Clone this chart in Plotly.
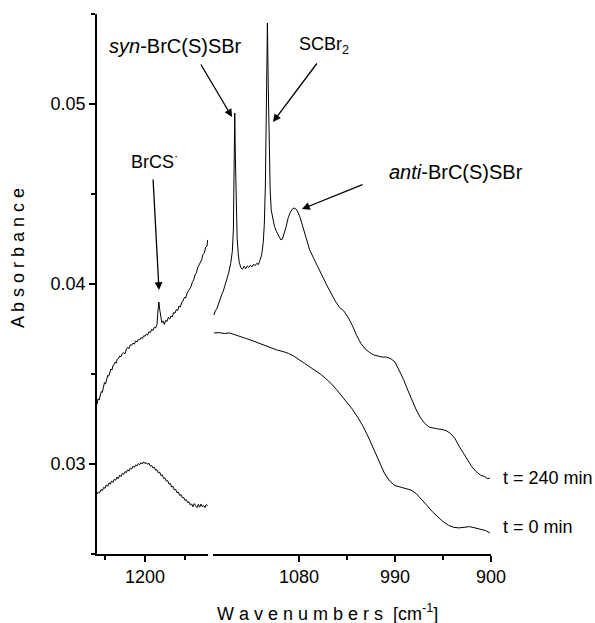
import plotly.graph_objects as go

# ---------------- data ----------------
# left segment (1236-1153 cm-1), t = 240 min
left_top_wn = [1236, 1235.2, 1234.4, 1233.6, 1232.8, 1232, 1231.2, 1230.4, 1229.6, 1228.8, 1228, 1227.2,
               1226.4, 1225.6, 1224.8, 1224, 1223.2, 1222.4, 1221.6, 1220.8, 1220, 1219, 1218, 1217, 1216,
               1215, 1214, 1213, 1212, 1211, 1210, 1209, 1208, 1207, 1206, 1205, 1204, 1203, 1202, 1201,
               1200, 1199, 1198, 1197, 1196, 1195, 1194, 1193, 1192, 1191, 1190.3, 1189.6, 1189, 1188.2,
               1187.4, 1186.5, 1185.5, 1184.5, 1183.5, 1182.5, 1181.5, 1180.5, 1179.5, 1178.5, 1177.5,
               1176.5, 1175.5, 1174.5, 1173.5, 1172.5, 1171.5, 1170.5, 1169.5, 1168.5, 1167.5, 1166.5,
               1165.5, 1164.5, 1163.5, 1162.5, 1161.5, 1160.5, 1159.5, 1158.5, 1157.5, 1156.5, 1155.5,
               1154.5, 1153.5, 1153]
left_top_abs = [0.03330, 0.03362, 0.03355, 0.03388, 0.03402, 0.03398, 0.03430, 0.03452, 0.03445, 0.03478,
                0.03492, 0.03488, 0.03515, 0.03528, 0.03522, 0.03548, 0.03552, 0.03566, 0.03560, 0.03582,
                0.03585, 0.03600, 0.03596, 0.03615, 0.03618, 0.03612, 0.03637, 0.03648, 0.03641, 0.03662,
                0.03660, 0.03672, 0.03666, 0.03684, 0.03678, 0.03692, 0.03690, 0.03702, 0.03697, 0.03712,
                0.03710, 0.03722, 0.03716, 0.03735, 0.03730, 0.03748, 0.03742, 0.03760, 0.03756, 0.03775,
                0.03850, 0.03900, 0.03860, 0.03810, 0.03785, 0.03795, 0.03775, 0.03798, 0.03792, 0.03815,
                0.03805, 0.03822, 0.03818, 0.03842, 0.03838, 0.03858, 0.03852, 0.03878, 0.03872, 0.03898,
                0.03905, 0.03925, 0.03922, 0.03948, 0.03962, 0.03975, 0.03985, 0.04010, 0.04022, 0.04050,
                0.04062, 0.04090, 0.04105, 0.04128, 0.04135, 0.04165, 0.04172, 0.04205, 0.04210, 0.04245]

# left segment, t = 0 min
left_bot_wn = [1236, 1235, 1234, 1233, 1232, 1231, 1230, 1229, 1228, 1227, 1226, 1225, 1224, 1223, 1222,
               1221, 1220, 1219, 1218, 1217, 1216, 1215, 1214, 1213, 1212, 1211, 1210, 1209, 1208, 1207,
               1206, 1205, 1204, 1203, 1202, 1201, 1200, 1199, 1198, 1197, 1196, 1195, 1194, 1193, 1192,
               1191, 1190, 1189, 1188, 1187, 1186, 1185, 1184, 1183, 1182, 1181, 1180, 1179, 1178, 1177,
               1176, 1175, 1174, 1173, 1172, 1171, 1170, 1169, 1168, 1167, 1166, 1165, 1164, 1163, 1162,
               1161, 1160, 1159, 1158, 1157, 1156, 1155, 1154, 1153]
left_bot_abs = [0.02832, 0.02845, 0.02840, 0.02858, 0.02852, 0.02870, 0.02865, 0.02884, 0.02876, 0.02895,
                0.02888, 0.02906, 0.02898, 0.02915, 0.02910, 0.02928, 0.02918, 0.02938, 0.02930, 0.02948,
                0.02942, 0.02958, 0.02952, 0.02968, 0.02960, 0.02978, 0.02972, 0.02988, 0.02980, 0.02995,
                0.02990, 0.03002, 0.02996, 0.03008, 0.03000, 0.03012, 0.03002, 0.03008, 0.02998, 0.03004,
                0.02988, 0.02992, 0.02978, 0.02982, 0.02965, 0.02968, 0.02950, 0.02955, 0.02935, 0.02940,
                0.02920, 0.02922, 0.02905, 0.02908, 0.02888, 0.02892, 0.02872, 0.02876, 0.02855, 0.02860,
                0.02840, 0.02845, 0.02825, 0.02830, 0.02812, 0.02815, 0.02798, 0.02802, 0.02785, 0.02790,
                0.02772, 0.02778, 0.02762, 0.02780, 0.02768, 0.02758, 0.02776, 0.02760, 0.02778, 0.02762,
                0.02770, 0.02758, 0.02775, 0.02768]

# right segment (1160-900 cm-1), t = 240 min
right_top_wn = [1159.7, 1158.5, 1157, 1155.5, 1154, 1152.5, 1151, 1149.5, 1148, 1146, 1144, 1142.5, 1141.5,
                1140.8, 1140.2, 1139.6, 1139, 1138, 1137, 1136, 1134.5, 1133, 1131.5, 1130, 1128.5, 1127,
                1125.5, 1124, 1122.5, 1121, 1119.5, 1118, 1117, 1115, 1113.5, 1112.5, 1111.5, 1110.5,
                1109.6, 1108.8, 1108, 1107, 1106, 1104.5, 1103, 1101, 1099, 1097, 1095.5, 1094, 1092, 1090,
                1088, 1086, 1084.5, 1083, 1081, 1079, 1076, 1073, 1070, 1066, 1062, 1058, 1054, 1050, 1046,
                1042, 1038, 1034, 1030, 1026, 1022, 1018, 1014, 1010, 1006, 1002, 998, 994, 990, 986, 982,
                978, 974, 970, 966, 962, 958, 954, 950, 946, 942, 938, 934, 930, 926, 922, 918, 914, 910,
                906, 903, 901]
right_top_abs = [0.03828, 0.03850, 0.03862, 0.03890, 0.03911, 0.03940, 0.03960, 0.03990, 0.04010, 0.04060,
                 0.04115, 0.04180, 0.04300, 0.04550, 0.04950, 0.04700, 0.04450, 0.04260, 0.04170, 0.04120,
                 0.04090, 0.04082, 0.04098, 0.04085, 0.04100, 0.04092, 0.04105, 0.04095, 0.04110, 0.04102,
                 0.04115, 0.04108, 0.04125, 0.04160, 0.04230, 0.04330, 0.04550, 0.04950, 0.05450, 0.05100,
                 0.04750, 0.04520, 0.04410, 0.04360, 0.04320, 0.04290, 0.04265, 0.04245, 0.04250, 0.04275,
                 0.04320, 0.04370, 0.04400, 0.04418, 0.04422, 0.04418, 0.04400, 0.04370, 0.04310, 0.04250,
                 0.04190, 0.04140, 0.04089, 0.04040, 0.03994, 0.03950, 0.03905, 0.03870, 0.03850, 0.03815,
                 0.03770, 0.03715, 0.03670, 0.03640, 0.03620, 0.03606, 0.03598, 0.03594, 0.03594, 0.03585,
                 0.03567, 0.03520, 0.03470, 0.03410, 0.03350, 0.03300, 0.03256, 0.03225, 0.03205, 0.03198,
                 0.03195, 0.03192, 0.03185, 0.03170, 0.03144, 0.03100, 0.03060, 0.03020, 0.02985, 0.02958,
                 0.02939, 0.02930, 0.02918, 0.02922]

# right segment, t = 0 min
right_bot_wn = [1159.7, 1155, 1150, 1145, 1140, 1135, 1130, 1125, 1120, 1115, 1110, 1105, 1100, 1095, 1090,
                1085, 1080, 1075, 1070, 1065, 1060, 1055, 1050, 1045, 1040, 1035, 1030, 1025, 1020, 1015,
                1010, 1005, 1000, 995, 990, 985, 980, 975, 970, 965, 960, 955, 950, 945, 940, 935, 930,
                925, 920, 915, 910, 905, 901]
right_bot_abs = [0.03728, 0.03730, 0.03725, 0.03728, 0.03718, 0.03706, 0.03698, 0.03688, 0.03676, 0.03665,
                 0.03652, 0.03640, 0.03632, 0.03625, 0.03615, 0.03600, 0.03582, 0.03560, 0.03540, 0.03522,
                 0.03500, 0.03475, 0.03448, 0.03415, 0.03380, 0.03345, 0.03305, 0.03260, 0.03210, 0.03150,
                 0.03080, 0.03010, 0.02950, 0.02905, 0.02880, 0.02872, 0.02865, 0.02855, 0.02835, 0.02805,
                 0.02770, 0.02735, 0.02705, 0.02680, 0.02660, 0.02648, 0.02645, 0.02650, 0.02652, 0.02645,
                 0.02638, 0.02630, 0.02617]

left_ticks = [1200]
left_minor = [1230, 1170]
right_ticks = [1080, 990, 900]
right_minor = [1035, 945]
y_ticks = [0.03, 0.04, 0.05]
y_minor = [0.025, 0.035, 0.045, 0.055]

# ---------------- layout geometry ----------------
W, H = 595, 623
L, R, T, B = 97, 491, 14, 554
pw, ph = R - L, B - T


def px(x):
    return (x - L) / pw


def py(y):
    return (B - y) / ph


FONT = "Liberation Sans, Arial, sans-serif"
line = dict(color="black", width=1)

fig = go.Figure()
fig.add_trace(go.Scatter(x=left_top_wn, y=left_top_abs, mode="lines", line=line, xaxis="x", yaxis="y"))
fig.add_trace(go.Scatter(x=left_bot_wn, y=left_bot_abs, mode="lines", line=line, xaxis="x", yaxis="y"))
fig.add_trace(go.Scatter(x=right_top_wn, y=right_top_abs, mode="lines", line=line, xaxis="x2", yaxis="y"))
fig.add_trace(go.Scatter(x=right_bot_wn, y=right_bot_abs, mode="lines", line=line, xaxis="x2", yaxis="y"))

axis_common = dict(showgrid=False, zeroline=False, showline=True, linecolor="black", linewidth=1.5,
                   ticks="outside", ticklen=6, tickwidth=1.5, tickcolor="black",
                   tickfont=dict(family=FONT, size=18, color="black"))
minor_common = dict(tickmode="array", ticklen=4, tickwidth=1.5, tickcolor="black", ticks="outside",
                    showgrid=False)

fig.update_layout(
    width=W, height=H,
    margin=dict(l=L, r=W - R, t=T, b=H - B),
    paper_bgcolor="white", plot_bgcolor="white",
    showlegend=False,
    xaxis=dict(domain=[0, px(208)], range=[1236, 1152.75], tickmode="array", tickvals=left_ticks,
               minor=dict(tickvals=left_minor, **minor_common), anchor="y", **axis_common),
    xaxis2=dict(domain=[px(213), 1], range=[1160.6, 900], tickmode="array", tickvals=right_ticks,
                minor=dict(tickvals=right_minor, **minor_common), anchor="y", **axis_common),
    yaxis=dict(range=[0.025, 0.055], tickmode="array", tickvals=y_ticks, tickformat=".2f",
               minor=dict(tickvals=y_minor, **minor_common), anchor="x", **axis_common),
)

tf = dict(family=FONT, size=18, color="black")
tf_big = dict(family=FONT, size=20, color="black")
texts = [
    ("<i>syn</i>-BrC(S)SBr", 107, 46, "left", tf_big),
    ("SCBr<sub>2</sub>", 297, 46, "left", tf),
    ("<i>anti</i>-BrC(S)SBr", 387, 172, "left", tf_big),
    ("BrCS<sup>·</sup>", 129, 160, "left", tf),
    ("t = 240 min", 501, 478, "left", tf),
    ("t = 0 min", 501, 527, "left", tf),
    ("W a v e n u m b e r s  [cm<sup>-1</sup>]", 327, 612, "center", tf),
]
for t, x, y, anc, f in texts:
    fig.add_annotation(text=t, x=px(x), y=py(y), xref="paper", yref="paper", xanchor=anc, yanchor="middle",
                       showarrow=False, font=f)

fig.add_annotation(text="A b s o r b a n c e", x=px(18), y=py(258), xref="paper", yref="paper",
                   xanchor="center", yanchor="middle", textangle=-90, showarrow=False, font=tf)

# arrows: (tail_x, tail_y, head_x, head_y) in pixels
arrows = [(200, 63, 232, 117), (318, 62, 273, 122), (364, 184, 302, 209), (153, 178, 159, 290)]
for tx, ty, hx, hy in arrows:
    fig.add_annotation(text="", x=px(hx), y=py(hy), xref="paper", yref="paper",
                       ax=tx - hx, ay=ty - hy, axref="pixel", ayref="pixel",
                       showarrow=True, arrowhead=2, arrowsize=1.2, arrowwidth=1.3, arrowcolor="black")

fig.write_html("out.html")
